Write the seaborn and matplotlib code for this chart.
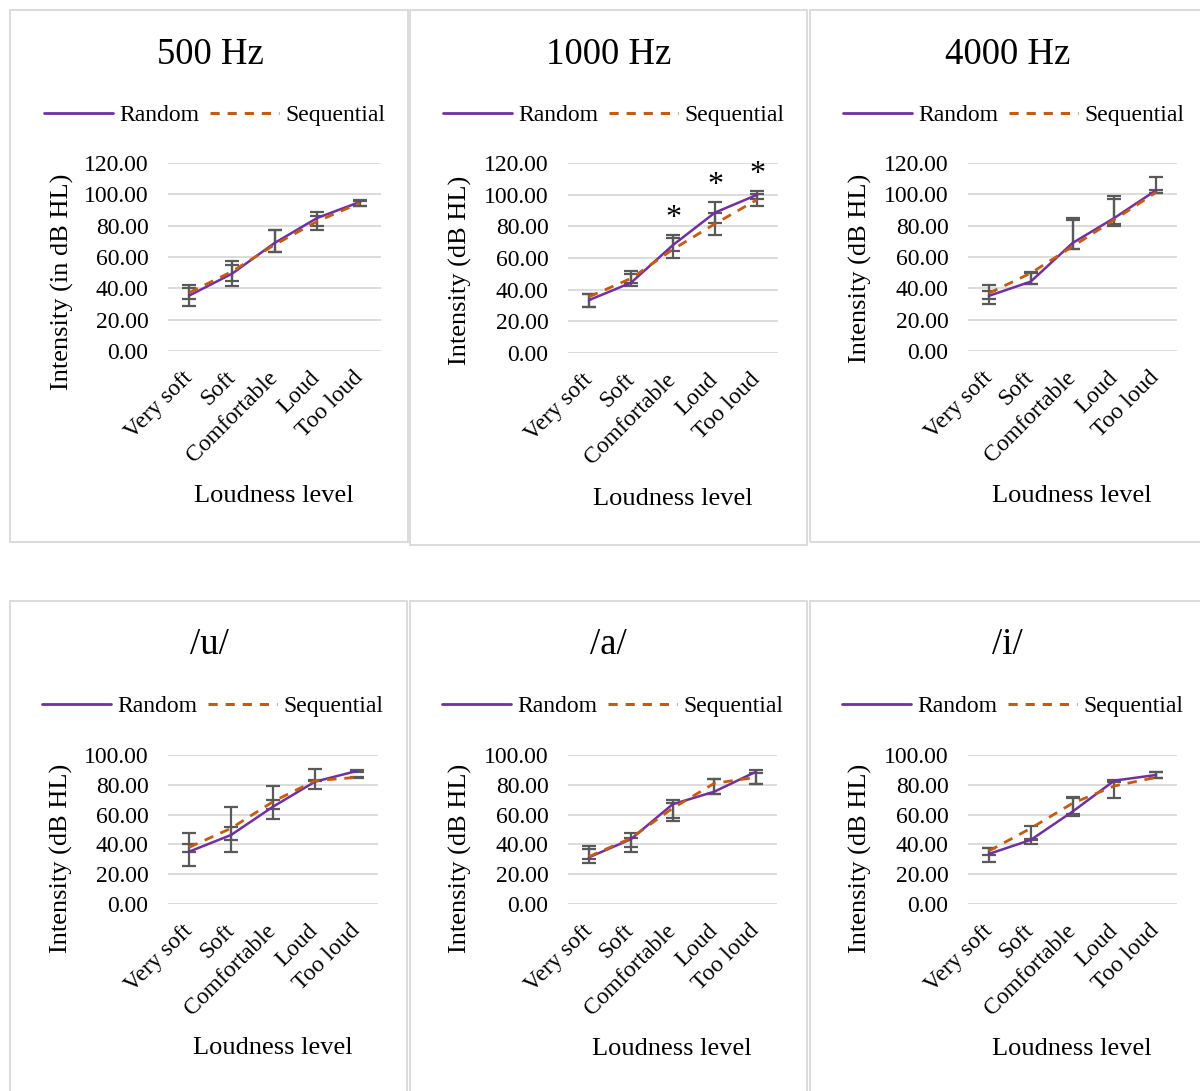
import numpy as np
import pandas as pd
import seaborn as sns
import matplotlib
matplotlib.use("Agg")
import matplotlib.pyplot as plt
from matplotlib.lines import Line2D
from matplotlib.patches import Rectangle

# ---- data -------------------------------------------------------------
levels = ["Very soft", "Soft", "Comfortable", "Loud", "Too loud"]
series_names = ["Random", "Sequential"]

# 500 Hz
rand_500 = [35.4, 49.3, 68.9, 84.9, 95.1]
rand_500_lo = [6.6, 8.1, 6.0, 4.9, 2.8]
rand_500_hi = [6.8, 8.3, 8.5, 3.6, 1.0]
seq_500 = [37.3, 50.7, 67.8, 82.7, 94.5]
seq_500_lo = [4.0, 5.9, 4.9, 5.3, 2.2]
seq_500_hi = [2.6, 3.9, 9.6, 3.7, 1.5]

# 1000 Hz
rand_1000 = [33.4, 44.4, 68.2, 88.7, 99.9]
rand_1000_lo = [4.2, 2.1, 4.0, 6.6, 2.6]
rand_1000_hi = [3.8, 5.5, 6.4, 6.6, 2.6]
seq_1000 = [35.5, 47.1, 65.5, 81.6, 96.8]
seq_1000_lo = [6.3, 3.2, 5.7, 7.0, 3.8]
seq_1000_hi = [1.7, 4.4, 7.4, 7.0, 3.8]
sig_1000 = [2, 3, 4]  # levels marked as significant

# 4000 Hz
rand_4000 = [35.2, 44.3, 68.9, 84.9, 102.6]
rand_4000_lo = [5.1, 1.7, 3.7, 3.7, 1.7]
rand_4000_hi = [7.0, 5.4, 16.0, 14.2, 8.5]
seq_4000 = [36.9, 49.7, 66.7, 83.8, 101.3]
seq_4000_lo = [3.9, 7.0, 1.5, 3.8, 0.4]
seq_4000_hi = [1.1, 0.5, 16.7, 13.2, 1.7]

# /u/
rand_u = [35.1, 46.3, 65.3, 82.1, 89.3]
rand_u_lo = [9.6, 11.2, 8.3, 5.1, 0.5]
rand_u_hi = [12.3, 19.0, 14.1, 8.5, 0.6]
seq_u = [38.0, 50.8, 68.7, 82.8, 85.0]
seq_u_lo = [2.9, 7.8, 4.9, 0.3, 0.5]
seq_u_hi = [2.3, 0.7, 1.1, 0.3, 0.5]

# /a/
rand_a = [31.3, 43.4, 66.9, 75.4, 88.8]
rand_a_lo = [4.0, 8.3, 11.2, 1.6, 8.5]
rand_a_hi = [7.6, 4.0, 2.9, 8.3, 1.1]
seq_a = [31.8, 44.1, 64.2, 81.0, 85.0]
seq_a_lo = [1.8, 6.1, 6.7, 7.2, 4.7]
seq_a_hi = [4.9, 0.4, 3.4, 2.7, 2.7]

# /i/
rand_i = [33.6, 43.0, 62.0, 82.8, 86.6]
rand_i_lo = [5.6, 2.7, 2.7, 0.5, 1.8]
rand_i_hi = [3.8, 0.3, 10.0, 0.5, 2.2]
seq_i = [35.6, 50.8, 67.6, 79.2, 85.0]
seq_i_lo = [2.7, 7.8, 7.2, 8.3, 0.2]
seq_i_hi = [1.8, 1.5, 3.3, 2.9, 3.8]

titles = ["500 Hz", "1000 Hz", "4000 Hz", "/u/", "/a/", "/i/"]
ylabels = ["Intensity (in dB HL)", "Intensity (dB HL)", "Intensity (dB HL)",
           "Intensity (dB HL)", "Intensity (dB HL)", "Intensity (dB HL)"]
xlabel = "Loudness level"

# ---- styling ------------------------------------------------------------
sns.set_theme(style="white")
plt.rcParams["font.family"] = ["Liberation Serif", "DejaVu Serif"]
plt.rcParams["text.color"] = "black"
plt.rcParams["axes.labelcolor"] = "black"

W, H = 1200, 1091
fig = plt.figure(figsize=(W / 100, H / 100), dpi=100)

C_RAND = "#7030A0"
C_SEQ = "#C55A11"
C_ERR = "#595959"
C_GRID = "#D9D9D9"
DASH = (0, (3.0, 2.6))


def fx(x):
    return x / W


def fy(y):
    return 1 - y / H


# panel frames (x0, y0, x1, y1) in pixels
frames = [(10, 10, 408, 542), (410, 10, 807, 545), (810, 10, 1210, 542),
          (10, 601, 407, 1100), (410, 601, 807, 1100), (810, 601, 1210, 1100)]
# plot areas (x0, y_top, x1, y_bottom)
areas = [(168, 163, 381, 351), (568, 163, 778, 353), (968, 163, 1177, 351),
         (168, 755, 378, 904), (568, 755, 777, 904), (968, 755, 1177, 904)]
title_pos = [(210, 55), (609, 55), (1008, 55), (209, 645), (608, 645), (1007, 645)]
legend_pos = [(215, 115), (614, 115), (1014, 115), (213, 706), (613, 706), (1013, 706)]
ylabel_pos = [(62, 282), (460, 270), (860, 268), (61, 858), (460, 858), (860, 858)]
xlabel_pos = [(274, 496), (673, 499), (1072, 496), (273, 1048), (672, 1049), (1072, 1049)]

panels = [
    (rand_500, rand_500_lo, rand_500_hi, seq_500, seq_500_lo, seq_500_hi, 120),
    (rand_1000, rand_1000_lo, rand_1000_hi, seq_1000, seq_1000_lo, seq_1000_hi, 120),
    (rand_4000, rand_4000_lo, rand_4000_hi, seq_4000, seq_4000_lo, seq_4000_hi, 120),
    (rand_u, rand_u_lo, rand_u_hi, seq_u, seq_u_lo, seq_u_hi, 100),
    (rand_a, rand_a_lo, rand_a_hi, seq_a, seq_a_lo, seq_a_hi, 100),
    (rand_i, rand_i_lo, rand_i_hi, seq_i, seq_i_lo, seq_i_hi, 100),
]

for k, (r, r_lo, r_hi, s, s_lo, s_hi, ymax) in enumerate(panels):
    x0, y0, x1, y1 = frames[k]
    fig.patches.append(Rectangle((fx(x0), fy(y1)), fx(x1 - x0), (y1 - y0) / H,
                                 transform=fig.transFigure, fill=False,
                                 edgecolor=C_GRID, linewidth=1.3, zorder=0))

    ax0, at, ax1, ab = areas[k]
    ax = fig.add_axes([fx(ax0), fy(ab), fx(ax1 - ax0), (ab - at) / H])

    df = pd.DataFrame({
        "level": levels * 2,
        "value": list(r) + list(s),
        "series": ["Random"] * 5 + ["Sequential"] * 5,
    })
    sns.lineplot(data=df, x="level", y="value", hue="series", style="series",
                 palette={"Random": C_RAND, "Sequential": C_SEQ},
                 dashes={"Random": "", "Sequential": (3.4, 2.8)},
                 sort=False, legend=False, ax=ax, zorder=4)
    for ln, lw in zip(ax.lines, [1.8, 2.0]):
        ln.set_linewidth(lw)

    xs = np.arange(len(levels))
    for vals, lo, hi in [(r, r_lo, r_hi), (s, s_lo, s_hi)]:
        ax.errorbar(xs, vals, yerr=[lo, hi], fmt="none", ecolor=C_ERR,
                    elinewidth=1.6, capsize=5, capthick=1.6, zorder=3)

    if k == 1:
        for i in sig_1000:
            top = max(r[i] + r_hi[i], s[i] + s_hi[i])
            ax.text(i, top + 5.5, "*", ha="center", va="baseline",
                    fontsize=23, color="black", clip_on=False)

    ax.set_xlim(-0.5, len(levels) - 0.5)
    ax.set_ylim(0, ymax)
    ax.set_yticks(np.arange(0, ymax + 1, 20))
    ax.yaxis.set_major_formatter(matplotlib.ticker.StrMethodFormatter("{x:.2f}"))
    ax.set_xticks(xs)
    ax.set_xticklabels(levels, rotation=45, ha="right", va="center",
                       rotation_mode="anchor")
    ax.tick_params(axis="both", length=0, labelsize=17, colors="black")
    ax.tick_params(axis="y", pad=14)
    ax.tick_params(axis="x", pad=17)
    for sp in ax.spines.values():
        sp.set_visible(False)
    ax.yaxis.grid(True, color=C_GRID, linewidth=1.3)
    ax.xaxis.grid(False)
    ax.set_axisbelow(True)
    ax.set_facecolor("none")

    ax.set_ylabel(ylabels[k], fontsize=19, color="black", va="center", ha="center")
    ax.yaxis.set_label_coords(fx(ylabel_pos[k][0]), fy(ylabel_pos[k][1]),
                              transform=fig.transFigure)
    ax.set_xlabel(xlabel, fontsize=19, color="black", va="center", ha="center")
    ax.xaxis.set_label_coords(fx(xlabel_pos[k][0]), fy(xlabel_pos[k][1]),
                              transform=fig.transFigure)

    fig.text(fx(title_pos[k][0]), fy(title_pos[k][1]), titles[k], fontsize=26.5,
             ha="center", va="center", color="black")

    handles = [Line2D([], [], color=C_RAND, lw=2.0),
               Line2D([], [], color=C_SEQ, lw=2.2, linestyle=DASH)]
    fig.legend(handles, series_names, loc="center",
               bbox_to_anchor=(fx(legend_pos[k][0]), fy(legend_pos[k][1])),
               ncol=2, frameon=False, fontsize=17, handlelength=2.9,
               handletextpad=0.3, columnspacing=0.45, borderpad=0,
               borderaxespad=0, labelcolor="black")

fig.savefig("out.png", dpi=100, facecolor="white")
